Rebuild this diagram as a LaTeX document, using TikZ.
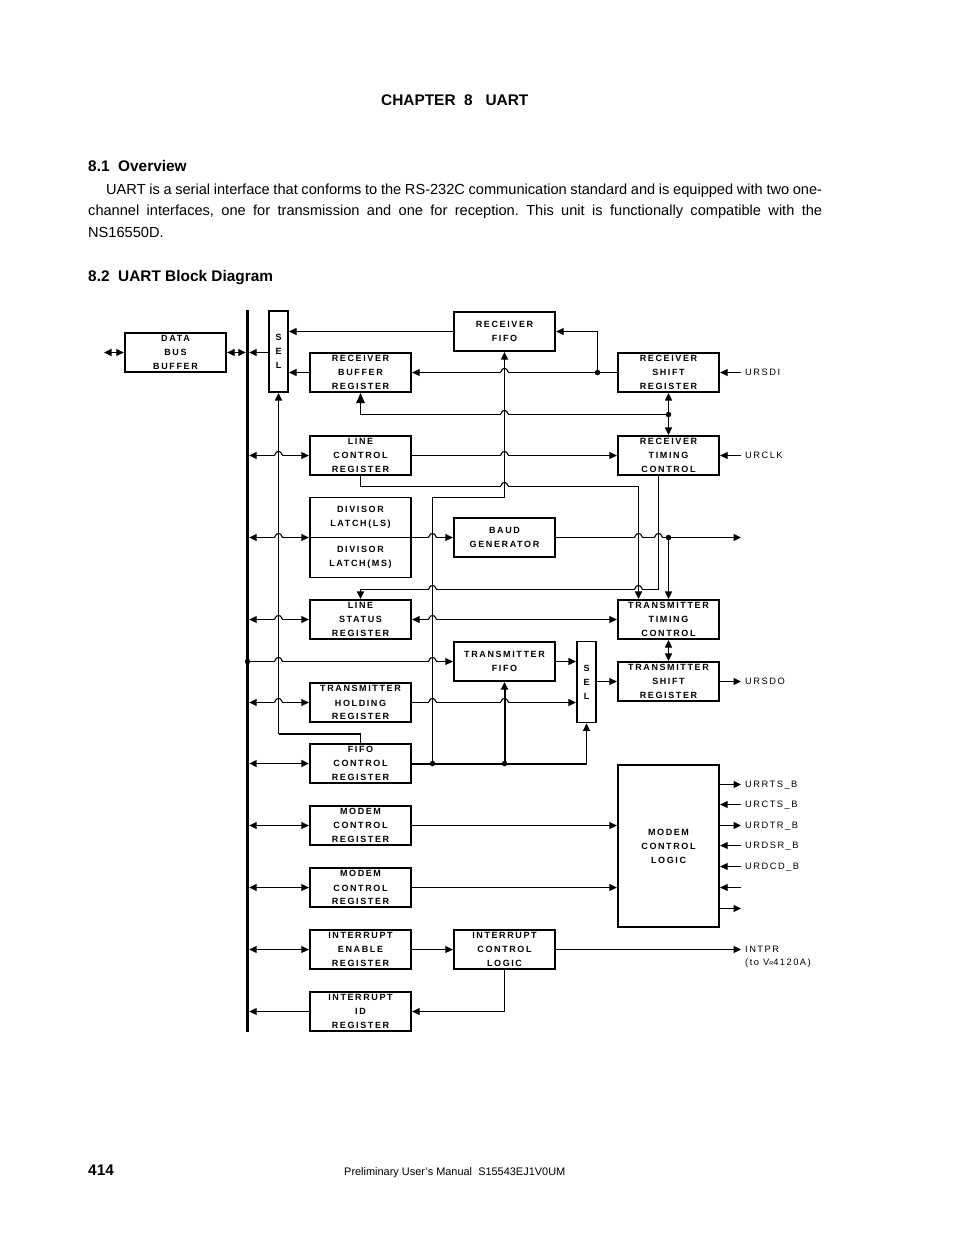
\documentclass[tikz,border=0pt]{standalone}
\usepackage{fontspec}
\usetikzlibrary{arrows.meta, positioning}
\setmainfont{Liberation Sans}
\newfontfamily\blockfont[LetterSpace=18]{Liberation Sans}
\newfontfamily\sigfont[LetterSpace=16]{Liberation Sans}

% hop of a line over a vertical one
\newcommand{\linehop}[3][]{%
	\fill[white] (#2-4.5,#3-1.2) rectangle (#2+4.5,#3+1.2);
	\draw[wire] (#2-4.5,#3) .. controls (#2-3,#3) and (#2-3.5,#3-4) .. (#2,#3-4)
		.. controls (#2+3.5,#3-4) and (#2+3,#3) .. (#2+4.5,#3);
	\draw[wire, #1] (#2,#3-4.5) -- (#2,#3+4.5);
}

\begin{document}
\begin{tikzpicture}[
		x=1pt, y=-1pt,
		block/.style={rectangle, draw, line width=1.7pt, align=center, inner sep=0pt,
			minimum width=101.6pt, minimum height=39.4pt,
			font=\blockfont\bfseries\fontsize{9}{14}\selectfont},
		latchbox/.style={block, minimum height=40pt},
		selbox/.style={block, minimum width=19.4pt, minimum height=81pt},
		tallbox/.style={block, minimum height=162.5pt},
		sigtwo/.style={anchor=west, inner xsep=4pt, inner ysep=0pt, align=left,
			font=\sigfont\fontsize{9.3}{13.5}\selectfont},
		sig/.style={sigtwo, text height=6.7pt, text depth=0pt},
		bus/.style={rectangle, fill=black, inner sep=0pt, minimum width=3pt, minimum height=722pt},
		dot/.style={circle, fill=black, inner sep=0pt, minimum size=5.5pt},
		head/.style={anchor=base west, inner sep=0pt, font=\bfseries\fontsize{15.4}{18}\selectfont},
		wire/.style={line width=1.1pt},
		heavy/.style={line width=2pt},
		edge/.style={wire, -{Triangle[length=7.5pt,width=7pt]}},
		edgeboth/.style={wire, {Triangle[length=7.5pt,width=7pt]}-{Triangle[length=7.5pt,width=7pt]}},
		bigedge/.style={wire, -{Triangle[length=10pt,width=8.5pt]}}
		]
		\useasboundingbox (0,0) rectangle (954,1235);
		
		% Page text
		\node[head] (chapter) at (381,105.5) {CHAPTER\ \ 8\ \ \ UART};
		\node[head] (over) at (88,171) {8.1\ \ Overview};
		\node[anchor=north west, inner sep=0pt, text width=734pt, align=justify,
			font=\frenchspacing\fontsize{14.6}{21.5}\selectfont] (para) at (88,183.5)
			{\hspace*{18pt}UART is a serial interface that conforms to the RS-232C communication standard and is equipped with two one-\linebreak
			channel interfaces, one for transmission and one for reception. This unit is functionally compatible with the\linebreak
			NS16550D.};
		\node[head] (blockhead) at (88,281.5) {8.2\ \ UART Block Diagram};
		\node[head] (pageno) at (88,1175.5) {414};
		\node[anchor=base west, inner sep=0pt, font=\fontsize{10.95}{13}\selectfont] (manual) at (344,1175)
			{Preliminary User’s Manual\ \ S15543EJ1V0UM};
		
		% Blocks
		\node[bus] (bus) at (247.5,670.5) {};
		\node[block] (dbb) at (175.5,352.5) {DATA\\BUS\\BUFFER};
		\node[selbox] (sela) at (278.5,351.7) {S\\E\\L};
		\node[block] (rbr) at (360.5,372.5) {RECEIVER\\BUFFER\\REGISTER};
		\node[block] (rfifo) at (504.5,331.5) {RECEIVER\\FIFO};
		\node[block] (rsr) at (668.5,372.5) {RECEIVER\\SHIFT\\REGISTER};
		\node[block] (lcr) at (360.5,455.5) {LINE\\CONTROL\\REGISTER};
		\node[block] (rtc) at (668.5,455.5) {RECEIVER\\TIMING\\CONTROL};
		\node[latchbox] (dll) at (360.5,517.5) {DIVISOR\\LATCH(LS)};
		\node[latchbox] (dlm) at (360.5,557.5) {DIVISOR\\LATCH(MS)};
		\node[block] (baud) at (504.5,537.5) {BAUD\\GENERATOR};
		\node[block] (lsr) at (360.5,619.5) {LINE\\STATUS\\REGISTER};
		\node[block] (ttc) at (668.5,619.5) {TRANSMITTER\\TIMING\\CONTROL};
		\node[block] (tfifo) at (504.5,661.5) {TRANSMITTER\\FIFO};
		\node[selbox] (selb) at (586.5,682) {S\\E\\L};
		\node[block] (tsr) at (668.5,681.5) {TRANSMITTER\\SHIFT\\REGISTER};
		\node[block] (thr) at (360.5,702.5) {TRANSMITTER\\[1pt]HOLDING\\[-0.5pt]REGISTER};
		\node[block] (fcr) at (360.5,763.5) {FIFO\\CONTROL\\REGISTER};
		\node[block] (mcra) at (360.5,825.5) {MODEM\\CONTROL\\REGISTER};
		\node[block] (mcrb) at (360.5,887.5) {MODEM\\[1pt]CONTROL\\[-1pt]REGISTER};
		\node[block] (ier) at (360.5,949.5) {INTERRUPT\\ENABLE\\REGISTER};
		\node[block] (icl) at (504.5,949.5) {INTERRUPT\\CONTROL\\LOGIC};
		\node[block] (iir) at (360.5,1011.5) {INTERRUPT\\ID\\REGISTER};
		\node[tallbox] (mcl) at (668.5,846) {MODEM\\CONTROL\\LOGIC};
		
		% Signals
		\node[sig] (ursdi) at (741,372.5) {URSDI};
		\node[sig] (urclk) at (741,455.5) {URCLK};
		\node[sig] (ursdo) at (741,681.5) {URSDO};
		\node[sig] (urrts) at (741,784.5) {URRTS\_B};
		\node[sig] (urcts) at (741,804.5) {URCTS\_B};
		\node[sig] (urdtr) at (741,825.5) {URDTR\_B};
		\node[sig] (urdsr) at (741,845.5) {URDSR\_B};
		\node[sig] (urdcd) at (741,866.5) {URDCD\_B};
		\node[sigtwo] (intpr) at (741,957) {INTPR\\(to V{\fontsize{5.5}{5.5}\selectfont R}4120A)};
		\coordinate (pinin) at (741,887.5);
		\coordinate (pinout) at (741,908.5);
		\coordinate (extbus) at (104,352.5);
		\coordinate (clkout) at (741,537.5);
		
		% Junctions
		\node[dot] (jrx) at (597.5,372.5) {};
		\node[dot] (jshift) at (668.5,414.5) {};
		\node[dot] (jclk) at (668.5,537.5) {};
		\node[dot] (jbus) at (247.5,661.5) {};
		\node[dot] (jfa) at (432.5,763.5) {};
		\node[dot] (jfb) at (504.5,763.5) {};
		
		% Turns
		\coordinate (lcrturn) at (638.5,486.5);
		\coordinate (rtcturn) at (658.5,589.5);
		\coordinate (fifoturn) at (504.5,497.5);
		\coordinate (seltop) at (278.5,733.5);
		\coordinate (fcrend) at (586.5,763.5);
		
		% Bus connections
		\draw[edgeboth] (extbus) -- (dbb.west);
		\draw[edgeboth] (dbb.east) -- (bus.west |- dbb.east);
		\draw[edge] (sela.west |- dbb.east) -- (bus.east |- dbb.east);
		\draw[edgeboth] (bus.east |- lcr.west) -- (lcr.west);
		\draw[edgeboth] (bus.east |- baud.west) -- (dll.south west |- baud.west);
		\draw[edgeboth] (bus.east |- lsr.west) -- (lsr.west);
		\draw[edgeboth] (bus.east |- thr.west) -- (thr.west);
		\draw[edgeboth, line width=1.6pt] (bus.east |- fcr.west) -- (fcr.west);
		\draw[edgeboth] (bus.east |- mcra.west) -- (mcra.west);
		\draw[edgeboth] (bus.east |- mcrb.west) -- (mcrb.west);
		\draw[edgeboth] (bus.east |- ier.west) -- (ier.west);
		\draw[edge] (iir.west) -- (bus.east |- iir.west);
		\draw[edge] (jbus.center) -- (tfifo.west);
		
		% Receiver side
		\draw[edge] (rfifo.west) -- (sela.east |- rfifo.west);
		\draw[edge] (rbr.west) -- (sela.east |- rbr.west);
		\draw[edge] (rsr.west) -- (rbr.east);
		\draw[edge] (jrx.center) |- (rfifo.east);
		\draw[bigedge] (jshift.center) -| (rbr.south);
		\draw[edgeboth] (rsr.south) -- (rtc.north);
		\draw[edge] (ursdi.west) -- (rsr.east);
		\draw[edge] (urclk.west) -- (rtc.east);
		\draw[edge] (lcr.east) -- (rtc.west);
		\draw[edge] (lcr.south) |- (lcrturn) -- (ttc.north -| lcrturn);
		\draw[edge] (rtc.south -| rtcturn) -- (rtcturn) -| (lsr.north);
		
		% Baud clock
		\draw[edge] (dll.south east |- baud.west) -- (baud.west);
		\draw[edge] (baud.east) -- (clkout);
		\draw[edge] (jclk.center) -- (ttc.north);
		
		% Transmitter side
		\draw[edgeboth] (lsr.east) -- (ttc.west);
		\draw[edge, line width=1.6pt] (tfifo.east) -- (selb.west |- tfifo.east);
		\draw[edge] (thr.east) -- (selb.west |- thr.east);
		\draw[edge] (selb.east |- tsr.west) -- (tsr.west);
		\draw[edgeboth] (ttc.south) -- (tsr.north);
		\draw[edge] (tsr.east) -- (ursdo.west);
		
		% FIFO control
		\draw[heavy] (fcr.east) -- (fcrend);
		\draw[edge] (fcrend) -- (selb.south);
		\draw[edge] (jfa.center) |- (fifoturn) -- (rfifo.south);
		\draw[edge, heavy] (jfb.center) -- (tfifo.south);
		\draw[edge] (fcr.north) |- (seltop) -- (sela.south);
		\draw[heavy] (fcr.north |- seltop) -- (seltop);
		
		% Modem and interrupt
		\draw[edge] (mcra.east) -- (mcl.west |- mcra.east);
		\draw[edge] (mcrb.east) -- (mcl.west |- mcrb.east);
		\draw[edge] (mcl.east |- urrts.west) -- (urrts.west);
		\draw[edge] (urcts.west) -- (mcl.east |- urcts.west);
		\draw[edge] (mcl.east |- urdtr.west) -- (urdtr.west);
		\draw[edge] (urdsr.west) -- (mcl.east |- urdsr.west);
		\draw[edge] (urdcd.west) -- (mcl.east |- urdcd.west);
		\draw[edge] (pinin) -- (mcl.east |- pinin);
		\draw[edge] (mcl.east |- pinout) -- (pinout);
		\draw[edge] (ier.east) -- (icl.west);
		\draw[edge] (icl.east) -- (intpr.west |- icl.east);
		\draw[edge] (icl.south) |- (iir.east);
		
		% Hops
		\linehop{278.5}{455.5}
		\linehop{278.5}{537.5}
		\linehop{278.5}{619.5}
		\linehop{278.5}{661.5}
		\linehop{278.5}{702.5}
		\linehop{432.5}{537.5}
		\linehop{432.5}{589.5}
		\linehop{432.5}{619.5}
		\linehop{432.5}{661.5}
		\linehop{432.5}{702.5}
		\linehop{504.5}{372.5}
		\linehop{504.5}{414.5}
		\linehop{504.5}{455.5}
		\linehop{504.5}{486.5}
		\linehop[heavy]{504.5}{702.5}
		\linehop{638.5}{537.5}
		\linehop{638.5}{589.5}
		\linehop{658.5}{537.5}
		
	\end{tikzpicture}
\end{document}
